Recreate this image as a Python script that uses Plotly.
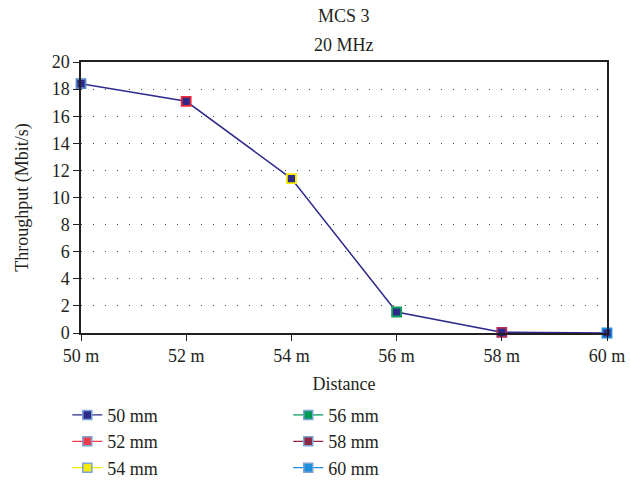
import plotly.graph_objects as go

distances = [50, 52, 54, 56, 58, 60]
throughput = [18.4, 17.1, 11.4, 1.55, 0.05, 0.0]
x_tick_labels = ["50 m", "52 m", "54 m", "56 m", "58 m", "60 m"]
series_names = ["50 mm", "52 mm", "54 mm", "56 mm", "58 mm", "60 mm"]
series_colors = ["#2E2A8C", "#EE3E4E", "#F5EC00", "#009A55", "#8E2645", "#1E8FDA"]
marker_edge = ["#5C86C8", "#EE2A3A", "#F5EC00", "#12A05A", "#B0305A", "#1E8FDA"]

NAVY = "#2E2A8C"
FONT = "Liberation Serif"
TXT = "#231F20"

fig = go.Figure()

fig.add_trace(go.Scatter(
    x=distances, y=throughput, mode="lines", cliponaxis=False,
    line=dict(color=NAVY, width=1.5), showlegend=False, hoverinfo="skip"))

for i, name in enumerate(series_names):
    fig.add_trace(go.Scatter(
        x=[distances[i]], y=[throughput[i]], mode="markers", cliponaxis=False,
        marker=dict(symbol="square", size=9, color=NAVY,
                    line=dict(color=marker_edge[i], width=1.8)),
        showlegend=False, name=name))

for i, name in enumerate(series_names):
    fig.add_trace(go.Scatter(
        x=[None], y=[None], mode="lines+markers", name=name,
        legend="legend" if i < 3 else "legend2", legendgroup=name,
        line=dict(color=series_colors[i], width=1.3),
        marker=dict(symbol="square", size=9, color=series_colors[i],
                    line=dict(color="#7BA3D6", width=1.5))))

legend_common = dict(
    font=dict(family=FONT, size=18, color=TXT),
    bgcolor="rgba(0,0,0,0)", tracegroupgap=0, itemwidth=30,
    xanchor="left", yanchor="top", orientation="v")

fig.update_layout(
    width=631, height=483,
    margin=dict(l=81, r=24, t=62, b=150, autoexpand=False),
    paper_bgcolor="white", plot_bgcolor="white",
    font=dict(family=FONT, size=18, color=TXT),
    legend=dict(x=-0.026, y=-0.235, **legend_common),
    legend2=dict(x=0.394, y=-0.235, **legend_common),
    annotations=[
        dict(text="MCS 3", x=0.5, y=1.17, xref="paper", yref="paper",
             yanchor="middle", showarrow=False,
             font=dict(family=FONT, size=18, color=TXT)),
        dict(text="20 MHz", x=0.5, y=1.063, xref="paper", yref="paper",
             yanchor="middle", showarrow=False,
             font=dict(family=FONT, size=18, color=TXT)),
    ],
    xaxis=dict(
        range=[50, 60], tickvals=distances, ticktext=x_tick_labels,
        showgrid=False, zeroline=False, automargin=False,
        showline=True, linecolor=TXT, linewidth=1.5, mirror=True,
        ticks="outside", ticklen=6, tickcolor=TXT, tickwidth=1.2,
        title=dict(text="Distance", standoff=12,
                   font=dict(family=FONT, size=18, color=TXT)),
    ),
    yaxis=dict(
        range=[0, 20], tickvals=list(range(0, 21, 2)),
        showgrid=True, gridcolor="#444", gridwidth=1.2, griddash="1.2px,10.8px",
        zeroline=False, automargin=False,
        showline=True, linecolor=TXT, linewidth=1.5, mirror=True,
        ticks="outside", ticklen=6, tickcolor=TXT, tickwidth=1.2,
        title=dict(text="Throughput (Mbit/s)", standoff=18,
                   font=dict(family=FONT, size=18, color=TXT)),
    ),
)

fig.write_html("out.html", config={"displayModeBar": False},
               post_script="document.body.style.margin='0';")
